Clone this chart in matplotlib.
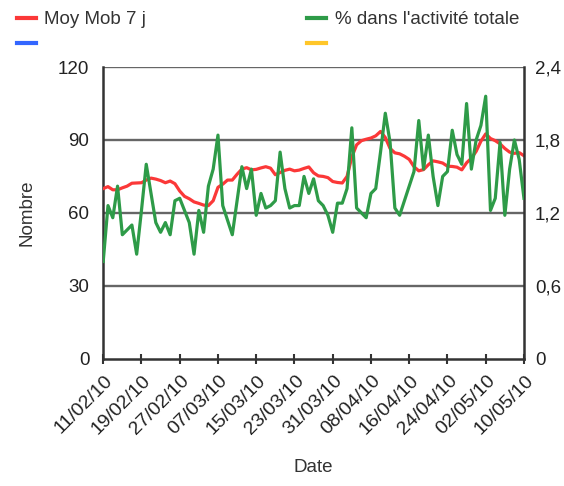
import numpy as np
import matplotlib.pyplot as plt
from matplotlib.lines import Line2D
import matplotlib.dates as mdates
import matplotlib.transforms as mtransforms
import pandas as pd

plt.rcParams['font.family'] = ['Liberation Sans', 'DejaVu Sans']

# Data (daily, 11/02/2010 -> 10/05/2010)
dates = pd.date_range('2010-02-11', '2010-05-10', freq='D')

moy_mob_7j = [70, 70.8, 69.5, 69.5, 70.3, 71, 72.2, 72.3, 72.4, 73.5,
              74.3, 73.9, 73.3, 72.4, 73.1, 72, 69, 66.8, 65.8, 64.5,
              63.9, 63.2, 63, 65, 70.5, 71.8, 73.5, 73.5, 75.9, 78,
              78.6, 77.7, 77.9, 78.5, 79, 78.4, 75.7, 76.6, 77.5, 78,
              77.3, 77.6, 78.3, 78.9, 76.5, 75.2, 75, 74.5, 72.9, 72.5,
              72.3, 75, 83, 88, 89.7, 90.3, 90.8, 91.7, 93.5, 91,
              86.5, 84.7, 84.3, 83.3, 82, 79, 77.3, 77.8, 79.8, 81.4,
              81, 80.5, 79.2, 79.1, 78.8, 77.7, 80.6, 82.5, 85.3, 89.5,
              92.5, 90.6, 89.7, 88.4, 86.5, 85, 84.5, 84.8, 83.5]

pct_activite = [0.80, 1.26, 1.16, 1.42, 1.02, 1.06, 1.10, 0.86, 1.22, 1.60,
                1.36, 1.12, 1.04, 1.12, 1.02, 1.30, 1.32, 1.22, 1.12, 0.86,
                1.22, 1.04, 1.42, 1.56, 1.84, 1.26, 1.14, 1.02, 1.30, 1.58,
                1.40, 1.56, 1.18, 1.36, 1.24, 1.26, 1.30, 1.70, 1.40, 1.24,
                1.26, 1.26, 1.50, 1.36, 1.48, 1.30, 1.26, 1.18, 1.04, 1.28,
                1.28, 1.40, 1.90, 1.24, 1.20, 1.16, 1.36, 1.40, 1.70, 2.02,
                1.78, 1.24, 1.18, 1.30, 1.42, 1.54, 1.96, 1.56, 1.84, 1.50,
                1.26, 1.50, 1.54, 1.88, 1.68, 1.60, 2.10, 1.56, 1.80, 1.92,
                2.16, 1.22, 1.32, 1.78, 1.18, 1.56, 1.80, 1.64, 1.32]

left_ticks = [0, 30, 60, 90, 120]
right_ticks = [0, 0.6, 1.2, 1.8, 2.4]
tick_dates = pd.date_range('2010-02-11', '2010-05-10', freq='8D')

red = '#fb3838'
green = '#2e9b48'
blue = '#3366ff'
yellow = '#ffc629'
grid_col = '#666666'
axis_col = '#333333'

fig = plt.figure(figsize=(5.64, 4.86), dpi=100)
ax = fig.add_axes([0.183, 0.262, 0.746, 0.600])
ax2 = ax.twinx()

ax.plot(dates, moy_mob_7j, color=red, lw=2.3, zorder=3)
ax2.plot(dates, pct_activite, color=green, lw=2.3, zorder=3)

ax.set_ylim(0, 120)
ax2.set_ylim(0, 2.4)
ax.set_xlim(dates[0], dates[-1])

ax.set_yticks(left_ticks)
ax2.set_yticks(right_ticks)
ax2.set_yticklabels([('%g' % v).replace('.', ',') for v in right_ticks])
for v in left_ticks[1:]:
    ax.axhline(v, color=grid_col, lw=1.7, zorder=1)

ax.set_xticks(tick_dates)
ax.xaxis.set_major_formatter(mdates.DateFormatter('%d/%m/%y'))

for a in (ax, ax2):
    for s in a.spines.values():
        s.set_visible(False)
    a.tick_params(labelsize=13.5, colors='#222222', length=0)
ax.tick_params(axis='y', pad=10)
ax2.tick_params(axis='y', pad=8)
ax.spines['left'].set_visible(True)
ax.spines['bottom'].set_visible(True)
ax2.spines['right'].set_visible(True)
for s in (ax.spines['left'], ax.spines['bottom'], ax2.spines['right']):
    s.set_color(axis_col)
    s.set_linewidth(1.8)
ax.tick_params(axis='x', length=7, width=1.5, direction='inout', color=axis_col,
               pad=9, labelsize=14)
shift = mtransforms.ScaledTranslation(7 / 100, -2 / 100, fig.dpi_scale_trans)
for lbl in ax.get_xticklabels():
    lbl.set_rotation(45)
    lbl.set_ha('right')
    lbl.set_va('center')
    lbl.set_rotation_mode('anchor')
    lbl.set_transform(lbl.get_transform() + shift)

ax.set_ylabel('Nombre', fontsize=13.5, color='#333333', labelpad=16)
ax.set_xlabel('Date', fontsize=13.5, color='#333333', labelpad=15)

leg_kw = dict(frameon=False, fontsize=13.5, handlelength=1.0, handletextpad=0.45,
              labelspacing=0.45, labelcolor='#333333', loc='upper left')
h_red = Line2D([], [], color=red, lw=3)
h_blue = Line2D([], [], color=blue, lw=3)
h_green = Line2D([], [], color=green, lw=3)
h_yellow = Line2D([], [], color=yellow, lw=3)
fig.legend([h_red, h_blue], ['Moy Mob 7 j', ''], bbox_to_anchor=(0.0, 1.012), **leg_kw)
fig.legend([h_green, h_yellow], ["% dans l'activité totale", ''],
           bbox_to_anchor=(0.515, 1.012), **leg_kw)

fig.savefig('out.png', dpi=100)
